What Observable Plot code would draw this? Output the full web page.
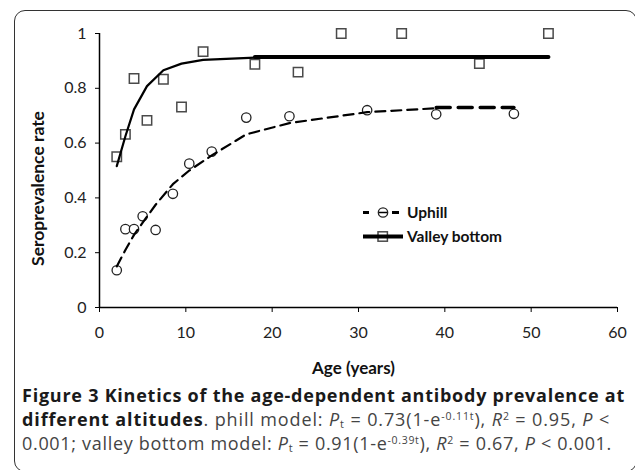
<!DOCTYPE html>
<html>
<head>
<meta charset="utf-8">
<script src="https://cdn.jsdelivr.net/npm/d3@7"></script>
<script src="https://cdn.jsdelivr.net/npm/@observablehq/plot@0.6"></script>
<style>
  html, body { margin: 0; padding: 0; background: #fff; }
  #wrap { position: relative; width: 635px; height: 470px; overflow: hidden; background: #fff; }
  #frame { position: absolute; left: 14px; top: 10px; width: 623px; height: 462px;
           border: 1.5px solid #333; border-radius: 11px; box-sizing: border-box; pointer-events: none; }
  #chart { position: absolute; left: 0; top: 0; }
  #legend { position: absolute; left: 0; top: 0; }
  #caption { position: absolute; left: 22px; top: 383px; font-family: "Open Sans", sans-serif;
             font-size: 18px; line-height: 24px; color: #444; white-space: nowrap; }
  #caption .ln { display: inline-block; height: 24px; line-height: 24px; }
  #caption b { color: #1a1a1a; }
  #caption sup { font-size: 10.5px; vertical-align: 6px; line-height: 0; }
  #caption sub { font-size: 11px; vertical-align: -2px; line-height: 0; }
</style>
</head>
<body>
<div id="wrap">
  <div id="chart"></div>
  <svg id="legend" width="635" height="380"></svg>
  <div id="frame"></div>
  <div id="caption">
    <span class="ln" data-w="603"><b>Figure 3 Kinetics of the age-dependent antibody prevalence at</b></span><br>
    <span class="ln" data-w="588"><b>different altitudes</b>. phill model: <i>P</i><sub>t</sub> = 0.73(1-e<sup>-0.11t</sup>), <i>R</i><sup>2</sup> = 0.95, <i>P</i> &lt;</span><br>
    <span class="ln" data-w="590">0.001; valley bottom model: <i>P</i><sub>t</sub> = 0.91(1-e<sup>-0.39t</sup>), <i>R</i><sup>2</sup> = 0.67, <i>P</i> &lt; 0.001.</span>
  </div>
</div>
<script>
// ---- Data ----
const uphillAge  = [2, 3, 4, 5, 6.5, 8.5, 10.4, 13, 17, 22, 31, 39, 48];
const uphillRate = [0.136, 0.286, 0.286, 0.333, 0.283, 0.415, 0.525, 0.569, 0.693, 0.698, 0.72, 0.705, 0.707];
const valleyAge  = [2, 3, 4, 5.5, 7.4, 9.5, 12, 18, 23, 28, 35, 44, 52];
const valleyRate = [0.55, 0.632, 0.836, 0.683, 0.833, 0.732, 0.934, 0.888, 0.859, 1, 1, 0.89, 1];

// fitted model curves as drawn (thin part), and the thick plateau segments
const uphillFitAge = [2, 3, 4, 5, 6.5, 8.5, 10.4, 13, 17, 22, 31, 39];
const uphillFit    = [0.15, 0.21, 0.265, 0.31, 0.375, 0.45, 0.5, 0.555, 0.632, 0.673, 0.713, 0.727];
const uphillPlateauAge = [39, 48];
const uphillPlateau    = [0.73, 0.73];
const valleyFitAge = [2, 3, 4, 5.5, 7.4, 9.5, 12, 18];
const valleyFit    = [0.516, 0.625, 0.723, 0.808, 0.866, 0.89, 0.904, 0.912];
const valleyPlateauAge = [18, 52];
const valleyPlateau    = [0.914, 0.914];

const seriesNames = ["Uphill", "Valley bottom"];
const xTicks = [0, 10, 20, 30, 40, 50, 60];
const xTickLabels = ["0", "10", "20", "30", "40", "50", "60"];
const yTicks = [0, 0.2, 0.4, 0.6, 0.8, 1];
const yTickLabels = ["0", "0.2", "0.4", "0.6", "0.8", "1"];
const xTitle = "Age (years)";
const yTitle = "Seroprevalence rate";

const zip = (xs, ys) => xs.map((x, i) => ({x, y: ys[i]}));
const uphillPts = zip(uphillAge, uphillRate);
const valleyPts = zip(valleyAge, valleyRate);
const uphillLine = zip(uphillFitAge, uphillFit);
const uphillThick = zip(uphillPlateauAge, uphillPlateau);
const valleyLine = zip(valleyFitAge, valleyFit);
const valleyThick = zip(valleyPlateauAge, valleyPlateau);

const xLab = new Map(xTicks.map((t, i) => [t, xTickLabels[i]]));
const yLab = new Map(yTicks.map((t, i) => [t, yTickLabels[i]]));

const chart = Plot.plot({
  width: 635,
  height: 380,
  marginLeft: 99,
  marginRight: 18,
  marginTop: 33,
  marginBottom: 73,
  style: {background: "none", fontFamily: "Lato, sans-serif", fontSize: "16px", color: "#222", overflow: "visible"},
  x: {domain: [0, 60]},
  y: {domain: [0, 1]},
  marks: [
    Plot.axisX({ticks: xTicks, tickSize: 5, tickPadding: 14, tickFormat: d => xLab.get(d), label: null, stroke: "#000"}),
    Plot.axisY({ticks: yTicks, tickSize: 4, tickPadding: 9, tickFormat: d => yLab.get(d), label: null, stroke: "#000"}),
    Plot.ruleX([0], {y1: 0, y2: 1, stroke: "#000", strokeWidth: 1.5}),
    Plot.ruleY([0], {x1: 0, x2: 60, stroke: "#000", strokeWidth: 1.5}),
    Plot.dot(valleyPts, {x: "x", y: "y", symbol: "square", r: 5.3, fill: "#fff", stroke: "#4a4a4a", strokeWidth: 1.5}),
    Plot.dot(uphillPts, {x: "x", y: "y", symbol: "circle", r: 4.7, fill: "#fff", stroke: "#222", strokeWidth: 1.3}),
    Plot.line(valleyLine, {x: "x", y: "y", stroke: "#000", strokeWidth: 2.2}),
    Plot.line(valleyThick, {x: "x", y: "y", stroke: "#000", strokeWidth: 4}),
    Plot.line(uphillLine, {x: "x", y: "y", stroke: "#000", strokeWidth: 2.2, strokeDasharray: "10,6"}),
    Plot.line(uphillThick, {x: "x", y: "y", stroke: "#000", strokeWidth: 3.5, strokeDasharray: "14,8"}),
    Plot.text([xTitle], {text: d => d, frameAnchor: "bottom", lineAnchor: "middle", textAnchor: "middle", dy: 61, dx: -5, fontWeight: "bold", fontSize: 17, fill: "#111"}),
    Plot.text([yTitle], {text: d => d, frameAnchor: "left", lineAnchor: "middle", textAnchor: "middle", rotate: -90, dx: -61, dy: 18, fontWeight: "bold", fontSize: 17.5, fill: "#111"})
  ]
});
document.getElementById("chart").appendChild(chart);

// ---- Legend ----
const lg = d3.select("#legend");
const rows = [
  {name: seriesNames[0], y: 212.5, kind: "uphill"},
  {name: seriesNames[1], y: 236.5, kind: "valley"}
];
rows.forEach(r => {
  const g = lg.append("g");
  if (r.kind === "uphill") {
    g.append("line").attr("x1", 363).attr("x2", 369).attr("y1", r.y).attr("y2", r.y).attr("stroke", "#000").attr("stroke-width", 3);
    g.append("line").attr("x1", 392).attr("x2", 399).attr("y1", r.y).attr("y2", r.y).attr("stroke", "#000").attr("stroke-width", 3);
    g.append("circle").attr("cx", 383).attr("cy", r.y).attr("r", 4.7).attr("fill", "#fff").attr("stroke", "#222").attr("stroke-width", 1.3);
    g.append("line").attr("x1", 379).attr("x2", 387).attr("y1", r.y).attr("y2", r.y).attr("stroke", "#000").attr("stroke-width", 1.5);
  } else {
    g.append("rect").attr("x", 378).attr("y", r.y - 4.7).attr("width", 9.4).attr("height", 9.4).attr("fill", "#fff").attr("stroke", "#4a4a4a").attr("stroke-width", 1.5);
    g.append("line").attr("x1", 363).attr("x2", 403).attr("y1", r.y).attr("y2", r.y).attr("stroke", "#000").attr("stroke-width", 4);
  }
  g.append("text").attr("x", 407).attr("y", r.y).attr("dy", "0.35em")
    .attr("font-family", "Lato, sans-serif").attr("font-size", 15.5).attr("font-weight", "bold").attr("fill", "#111")
    .text(r.name);
});

// ---- Fit caption lines to the reference line widths ----
document.querySelectorAll("#caption .ln").forEach(el => {
  const target = +el.dataset.w;
  const w = el.getBoundingClientRect().width;
  const n = el.textContent.length;
  el.style.letterSpacing = ((target - w) / n).toFixed(3) + "px";
});
</script>
</body>
</html>
